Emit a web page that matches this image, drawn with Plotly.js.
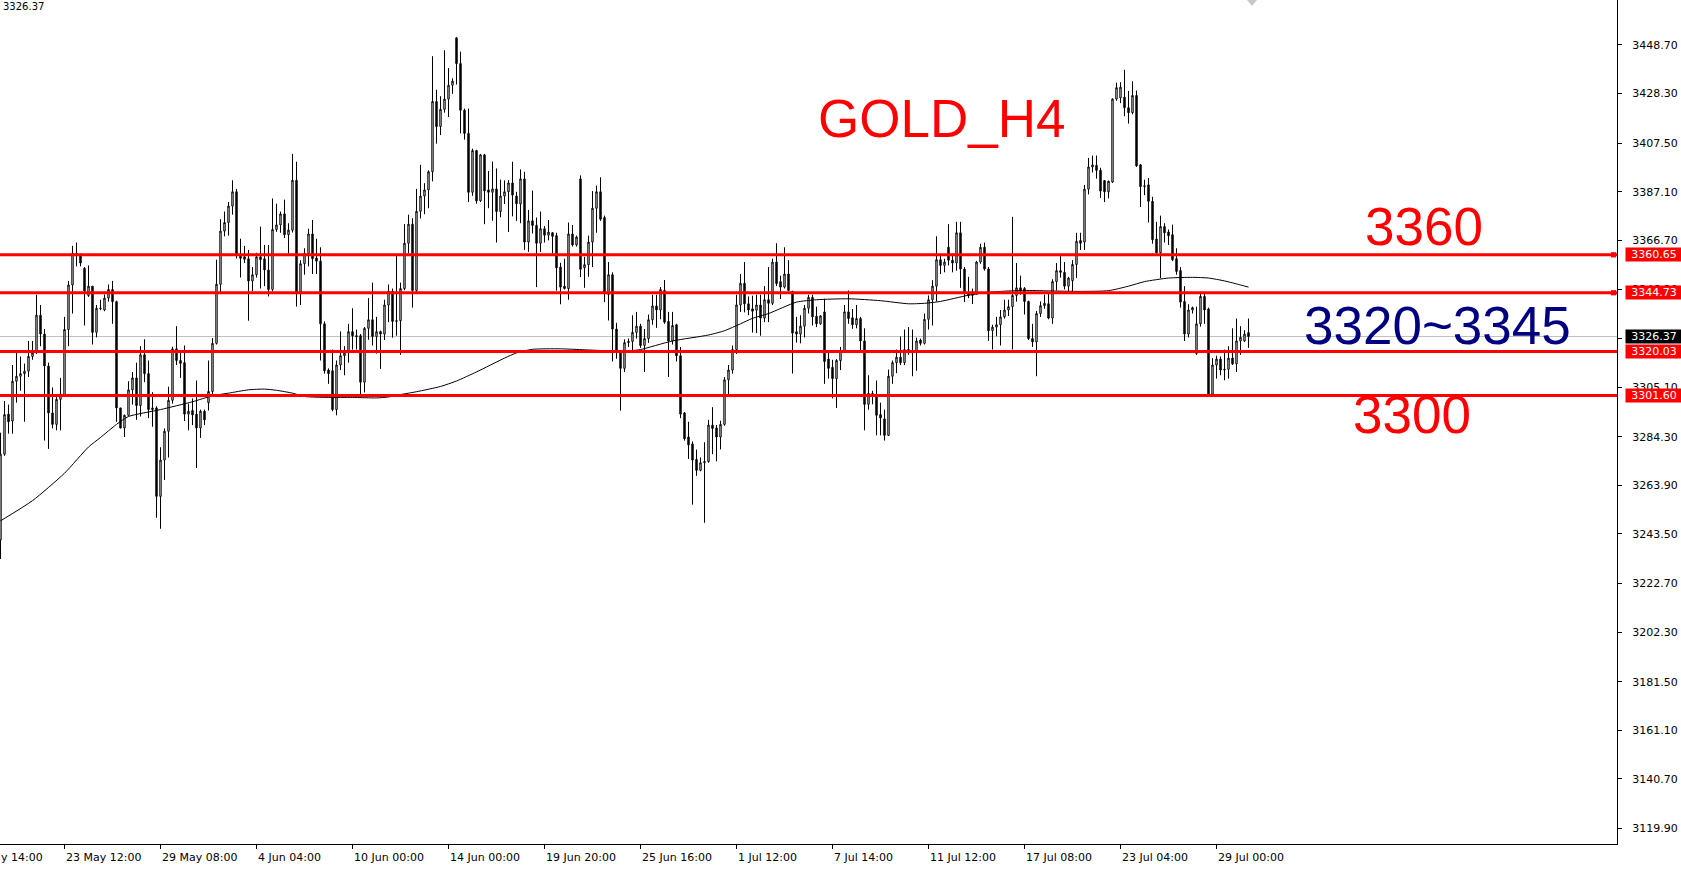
<!DOCTYPE html>
<html><head><meta charset="utf-8">
<script src="https://cdn.plot.ly/plotly-3.0.1.min.js"></script>
<style>html,body{margin:0;padding:0;background:#fff;overflow:hidden}#chart{width:1681px;height:871px}</style>
</head><body><div id="chart"></div>
<script>
// ---- data (GOLD H4 candles) ----
const openP = [
3241,3277,3293.8,3290.9,3307.6,3309.7,3310.8,3311.8,3318,3319.5,
3335.3,3327.4,3314,3294.3,3289.5,3300,3301.6,3329.3,3348,3361.2,
3360.5,3355,3343.6,3347.5,3328.1,3338,3337.5,3342.5,3346.1,3341,
3296.4,3288,3293.3,
3304,3309,3297.4,3318.7,3310.8,3295.7,3296.4,3259.3,3274.5,3286.6,
3299.6,3321.2,3316.3,3315.4,3293.8,3295.3,3293.8,3288,3295,3298.6,
3303.3,3323.5,3348.3,3370.6,3374.2,3381.1,3387.1,3360.1,3359.8,3359,
3349.7,
3352.3,3359.8,3359,3354.3,3346.1,3371.3,3373.2,3377.8,3369.1,3371,
3391.9,3345.1,3356.9,3361.2,3369.4,3359.3,3358,3331.7,3312.3,3312,
3295.7,3314.4,3318.3,3319.5,3328.4,3326.7,3326.7,3307.2,3329.8,3333.4,
3326.4,
3328.4,3327.4,3339.6,3345.4,3332.7,3333,3346.5,3365.5,3373.5,3345.7,
3378.9,3385.3,3387.9,3395.5,3425,3414.5,3421.7,3426,3431.8,3451.7,
3440.9,3421.3,3411.6,3386.9,3404.4,3383.3,3402.6,3387.9,3386.9,3388.3,
3378.8,3385.3,
3387.1,3390.8,3385.3,3382,3392.5,3366,3374.9,3373,3365.5,3371.6,
3368.9,3369.9,3368.7,3355.5,3347.5,3346.5,3369.4,3364.8,3392.5,3355.2,
3356.5,3366,3380.2,3387.1,3376.3,3344,3352.3,3329.5,3320.2,3313,
3323.8,
3324.3,3328.1,3330.7,3322.6,3325.5,3333.4,3339.2,3337.5,3345.7,3332.7,
3324.5,3331.3,3318.3,3294.3,3284.2,3281.3,3274.8,3270.2,3273.4,3273.9,
3289.2,3288,3284.2,3289.5,3308.2,3312.3,3320.9,3339.6,3348.7,3340.1,
3338,
3337.4,3339.6,3334.1,3341.8,3340.3,3357.6,3349.4,3347.1,3352.6,3345.4,
3328.4,3327.4,3330.7,3338.2,3342.8,3334.9,3331.7,3336.7,3316.9,3313.4,
3308.7,3316.3,3320.2,3336.7,3334.2,3331.3,3333.9,3324.5,3297.9,3302.5,
3301.9,
3293.6,3291.8,3284.9,3309.7,3315.4,3317.7,3315.4,3320.9,3319.5,3320,
3324.9,3323.5,3333.6,3341.8,3347.5,3358.6,3356.2,3363.8,3358.4,3357.2,
3369.9,3354.7,3344.7,3343.6,3344.2,3357.6,3363.8,3354.7,3328.8,3330.3,
3331.3,3334.6,
3337.5,3338.9,3343.6,3346.8,3346.5,3341.1,3325.5,3324.1,3336,3339.3,
3340.1,3334.1,3349.4,3354,3353.3,3347.5,3349.8,3356.6,3366.7,3366,
3388.2,3397.5,3398.2,3396.1,3391.8,3387.1,3391.2,3426,3426.5,3426.8,
3422.4,
3420.3,3427.5,3398.4,3389.3,3390,3383.1,3367.3,3361.5,3372.5,3370.2,
3369.1,3359,3354,3341.1,3327.4,3337.5,3319.2,3331.7,3343.2,3337.9,
3302.2,3314.4,3316.9,3312.3,3312.6,3317.3,3314.9,3324.5,3324.5,3328
];
const highP = [
3286,3299.3,3297.8,3314.4,3319.5,3318,3315,3324.5,3324.5,3343.9,
3339.6,3329.5,3315.4,3305,3302.2,3309,3334.6,3349.7,3364.4,3365.8,
3361.2,3355.5,3356.2,3347.5,3339.6,3341.8,3344,3348.2,3349.7,3341.4,
3296.4,3293.6,3307.6,
3311.5,3315.4,3322.3,3325.2,3316.3,3303,3297.1,3279.9,3287.8,3305.3,
3322.1,3330.7,3319.5,3322.6,3298.2,3300.4,3307.9,3295.7,3295.7,3316.3,
3325.7,3358.6,3375.6,3378.8,3382.8,3391.9,3388.3,3367.4,3364.4,3362.7,
3355.5,
3361.5,3372.5,3364.8,3364.8,3384.3,3382.1,3378.8,3383.8,3373.9,3403,
3399.7,3358.4,3363.4,3371.6,3375.3,3367.4,3363.8,3332.7,3313,3320.9,
3316.3,3328.5,3322.3,3331.7,3338.2,3329.3,3327.4,3330.3,3342.5,3349,
3334.6,
3328.8,3341.8,3348.2,3346.5,3360.5,3349,3373.5,3377.5,3376,3388.3,
3398.4,3390.7,3396.1,3444,3429.9,3427.2,3446.5,3439,3434.7,3452,
3445.9,3422,3422,3405.2,3404.7,3403,3403,3395.8,3399.8,3396.9,
3392.2,3391.9,
3392,3399.7,3387.1,3396.5,3395.5,3379.5,3387.6,3376.3,3378.8,3372.7,
3375.3,3370.2,3369.9,3357.3,3359,3374.2,3373.2,3368.7,3394,3359.8,
3368.7,3387.4,3389.7,3393.2,3377.1,3357.6,3353.3,3332.1,3320.5,3325.2,
3325.5,
3335.3,3336.7,3331.7,3329.5,3335.6,3343.9,3343.9,3347.1,3350.1,3336.7,
3336.7,3331.7,3322,3294.7,3290.6,3282.3,3278.9,3275.6,3282,3291.4,
3296.7,3289.2,3291,3309.4,3314.4,3322.6,3343.9,3352.6,3357.6,3343.2,
3343.5,
3343.9,3343.9,3347.5,3355.5,3359,3365.5,3351.9,3363.8,3358.4,3345.4,
3334.6,3335.3,3339.6,3343.9,3343.9,3338.9,3335.3,3342.2,3319.5,3316.6,
3316.9,3322,3339.6,3345.7,3337.9,3339.6,3334.6,3329.8,3310.1,3303.6,
3307.9,
3298.6,3295.7,3312.5,3316.3,3320.9,3326.4,3329.3,3330.3,3329.3,3325.9,
3325.5,3336,3343.6,3350,3368.4,3360.5,3359,3373.5,3361.2,3374.5,
3374.5,3355.5,3351.4,3346.5,3358.1,3365.3,3365.8,3355.5,3331.3,3334.6,
3337.5,3341.8,
3341.8,3376.6,3357.2,3351.9,3347.1,3341.4,3331.7,3337.1,3341.1,3343.9,
3344.2,3350.4,3357.2,3360.1,3357.6,3351.4,3358.4,3369.9,3369.9,3390,
3401.3,3402.3,3402.3,3397.2,3391.8,3391.8,3426.3,3432.9,3433.1,3438.3,
3429.4,
3433.5,3429.6,3398.7,3392.2,3392.9,3385,3374.5,3377.1,3373.9,3371.3,
3373.3,3363.4,3355.5,3347.5,3339.9,3338.9,3338.9,3344.7,3344.2,3338.5,
3317.3,3318.3,3318,3320.9,3322.3,3329.8,3333.9,3330.7,3329,3333.9
];
const lowP = [
3233,3276.3,3285.6,3285.6,3298.6,3303.6,3290.6,3309.4,3316.6,3319,
3322.3,3282.7,3279.2,3287.8,3287,3287,3301,3322.3,3336,3355.8,
3355.8,3331,3343,3323,3326,3337.4,3337,3341,3331.7,3290.6,
3287.8,3284.2,3293,
3297.8,3291.4,3292.8,3307.2,3292.1,3288.5,3250.3,3245.7,3266.2,3275.6,
3298.2,3314.4,3309,3290.9,3287,3289.2,3271.2,3283.8,3289.2,3295.3,
3302.2,3323,3345,3368.4,3368.7,3377.5,3359.1,3351.1,3357.2,3333,
3345.4,
3351.1,3346.5,3347.5,3343.2,3345.4,3370.3,3369.9,3367.7,3361.2,3370,
3338.9,3339.6,3352.3,3355.8,3352.6,3352.6,3316.3,3310.8,3306.5,3295,
3293.3,3312.3,3310.1,3315.4,3320.9,3320.9,3302.2,3302.9,3325,3322.6,
3319.2,
3312.8,3324.9,3332.4,3325.9,3326.7,3318.7,3345.8,3361.2,3338.5,3345.1,
3375.9,3377.7,3380.2,3391.5,3407.3,3410.9,3420.3,3418.5,3428.2,3432.1,
3411.6,3409,3382.8,3385.4,3382.1,3382.8,3373.5,3380.2,3374.9,3365.8,
3376.4,3382,
3370.2,3376.8,3374.9,3373.9,3362.7,3361.9,3369.6,3347.1,3361.9,3365.8,
3366.7,3361.2,3345.6,3339.9,3346.1,3341.8,3364.1,3364.1,3351.3,3346.8,
3351.4,3355.5,3369.9,3374.9,3340.8,3333.1,3315.9,3317,3295.3,3311.5,
3322,
3320.3,3325.5,3321.6,3311.5,3323.7,3331.3,3330,3333.6,3331.7,3309.4,
3323,3315.9,3292.1,3282.7,3275,3255.8,3267.9,3269.8,3248.2,3273.4,
3277,3274,3279,3288.9,3302.2,3310.8,3319,3336.7,3336.5,3335.3,
3328,
3327.8,3326.7,3332.4,3332.4,3339.6,3347.5,3342.1,3346.5,3345.4,3310.8,
3323.8,3323.5,3326,3336,3331,3330.3,3331.3,3306.5,3308.7,3300.4,
3296.4,3312.3,3320,3331.7,3329.6,3329.8,3320.6,3287,3295.7,3297.9,
3284.9,
3284.9,3282.7,3284.6,3306.5,3311,3314.4,3314.4,3318.7,3309.7,3312,
3322.6,3323,3329.3,3331,3341.1,3352.6,3353.3,3356.2,3353.3,3354,
3346.8,3340.8,3342.5,3340,3343.9,3356.9,3354,3324.5,3320.9,3326.5,
3322.6,3333.9,
3335,3320.9,3341,3343.9,3335.6,3324.9,3322,3309.7,3334.6,3338,
3333.6,3331.7,3345.7,3351.1,3346.1,3345.4,3345.1,3350.9,3362.7,3362.7,
3386,3395.2,3392.6,3384.5,3382.8,3384.3,3390.8,3425.3,3424.3,3418.8,
3415.7,
3419.6,3397.5,3380.7,3385.7,3374.2,3365.3,3361.2,3350.9,3365.8,3364.8,
3358,3352.3,3338.5,3324.5,3326,3336,3318.7,3330.5,3331.7,3301.6,
3301.9,3308.7,3310.1,3308,3308.7,3314.4,3311.5,3318.7,3324.1,3321.6
];
const closeP = [
3277,3293.6,3290.6,3307.6,3309.7,3310.8,3311.8,3318,3319.5,3335.3,
3327.4,3314,3294.3,3289.5,3300,3302.2,3329.3,3348,3361.2,3360.5,
3357.2,3345.5,3347.5,3328.1,3338.2,3338.2,3342.5,3346.1,3341,3296.4,
3288,3293.3,3304,
3309,3297.4,3318.7,3310.8,3295.7,3296.4,3259.3,3274.5,3286.6,3299.6,
3321.2,3316.3,3315.1,3293.8,3295,3293.5,3288,3295,3291.4,3303.3,
3323.5,3348.3,3370.6,3374.2,3381.1,3387.1,3361.2,3359.2,3358.8,3349.7,
3352.3,
3359.8,3358.6,3354.3,3346.1,3371.3,3373.2,3377.8,3369.1,3371,3391.9,
3345.1,3356.9,3361.2,3369.4,3359,3358,3331.7,3312,3310.8,3295.7,
3314.4,3318.3,3319.5,3328.4,3326.7,3326.3,3307.2,3329.8,3333.4,3326.4,
3328.4,
3327.4,3339.6,3345.4,3332.7,3333,3346.5,3365.5,3373.5,3345.7,3378.9,
3385.3,3387.9,3395.5,3425,3414.5,3421.7,3426,3431.8,3433.5,3440.9,
3421.3,3411.6,3386.9,3404.4,3383.3,3402.6,3387.5,3386.9,3388.3,3378.8,
3385.3,3387.1,
3390.8,3385.7,3382.1,3392.5,3366,3374.9,3373,3365.5,3371.6,3368.9,
3370.2,3368.4,3355.2,3347.1,3346.5,3369.4,3364.8,3368.1,3354.6,3356.5,
3366,3380.2,3387.1,3375.6,3345.1,3352.3,3329.5,3320.2,3313,3323.8,
3324.3,
3328.1,3330.7,3322.6,3325.5,3333.4,3339.2,3337.5,3346.1,3332.4,3324.5,
3331,3318.3,3293.8,3283.5,3280.9,3274.5,3270.2,3273.4,3273.9,3289.2,
3287.8,3284.2,3289.5,3308.2,3312.3,3320.9,3339.6,3348.7,3340.1,3337.5,
3337,
3339.6,3334.1,3341.8,3340.3,3357.6,3348.6,3347.1,3352.6,3345.7,3327.8,
3327.4,3330.7,3338.2,3342.8,3334.6,3331.7,3335,3315.9,3313,3308.7,
3316.3,3320.2,3336.7,3333.9,3331.3,3333.9,3324.5,3297.9,3302.5,3301.5,
3293.3,
3292.2,3284.9,3309.7,3315.4,3317.7,3315.4,3320.9,3319.5,3320,3324.5,
3323.5,3333.6,3341.8,3347.5,3358.6,3356.2,3357.6,3358.4,3357.2,3369.9,
3354.7,3344.7,3343.6,3344.2,3357.6,3363.8,3354.7,3328.8,3330.3,3331.3,
3334.6,3337.5,
3338.9,3343.6,3346.8,3345.7,3341.1,3325.5,3324.1,3336,3339.3,3340.3,
3334.1,3349.4,3354,3353.3,3347.5,3350.9,3356.6,3366.3,3365.5,3388.2,
3397.5,3398.4,3396.1,3387.4,3387.1,3391.5,3426,3430.8,3431,3422.4,
3420.3,
3427.5,3398,3389.3,3389.6,3383.1,3367,3361.5,3372.5,3369.9,3368.7,
3358.6,3353.7,3340.8,3327.4,3337.5,3338.5,3331.7,3343.2,3337.5,3302.2,
3314.4,3316.9,3312.3,3312.6,3317.3,3314.9,3324.5,3326,3327.4,3326.37
];
// moving average line, read at sample bars
const maBar = [0,8,16,22,25,29,32,40,48,53,57,62,66,69,73,76,82,88,94,97,100,104,110,114,119,126,129,133,140,146,152,158,160,168,177,181,185,188,192,199,204,212,220,227,231,235,242,246,251,256,262,270,277,282,286,292,298,302,306,310,312];
const maVal = [3249,3257.5,3269,3280,3284,3289.5,3292.8,3295.7,3299,3301.5,3302.6,3304,3304.3,3303.8,3302.6,3301.2,3300.8,3300.8,3300.6,3301,3302,3303.2,3305.4,3307.7,3311.5,3317.3,3319.5,3321,3321.2,3320.8,3320.4,3320.5,3320.9,3324.5,3327,3328.8,3331.7,3334,3336,3340.8,3341.8,3342.2,3341.4,3340.1,3340.3,3341.1,3343.7,3344.7,3345.4,3345.7,3345.5,3345.3,3345.6,3347.5,3349.4,3350.9,3351.2,3350.9,3349.7,3348,3347.1];
// horizontal levels
const levelPrices = [3360.65, 3344.73, 3320.03, 3301.60];
const levelLabels = ['3360.65', '3344.73', '3320.03', '3301.60'];
const bidPrice = 3326.37;
const bidLabel = '3326.37';
// axis ticks
const yTickVals = [3448.70,3428.30,3407.50,3387.10,3366.70,3346.30,3325.50,3305.10,3284.30,3263.90,3243.50,3222.70,3202.30,3181.50,3161.10,3140.70,3119.90];
const yTickText = ['3448.70','3428.30','3407.50','3387.10','3366.70','3346.30','3325.50','3305.10','3284.30','3263.90','3243.50','3222.70','3202.30','3181.50','3161.10','3140.70','3119.90'];
const xTickBars = [16,40,64,88,112,136,160,184,208,232,256,280,304];
const xTickText = ['23 May 12:00','29 May 08:00','4 Jun 04:00','10 Jun 00:00','14 Jun 00:00','19 Jun 20:00','25 Jun 16:00','1 Jul 12:00','7 Jul 14:00','11 Jul 12:00','17 Jul 08:00','23 Jul 04:00','29 Jul 00:00'];
const firstLabel = 'y 14:00';
const titleText = 'GOLD_H4';
const noteTop = '3360';
const noteMid = '3320~3345';
const noteLow = '3300';

// ---- chart ----
const PW = 1617, PH = 844;
const px = v => v / PW;          // pixel -> paper x
const py = v => 1 - v / PH;      // pixel -> paper y
const bars = openP.map((_, i) => i);
const RED = '#FF0000';
const FONT = 'DejaVu Sans';

const traces = [
  {
    type: 'candlestick', x: bars, open: openP, high: highP, low: lowP, close: closeP,
    increasing: {line: {color: '#000', width: 1}, fillcolor: '#ffffff'},
    decreasing: {line: {color: '#000', width: 1}, fillcolor: '#000000'},
    whiskerwidth: 0, hoverinfo: 'skip', showlegend: false
  },
  {
    type: 'scatter', mode: 'lines', x: maBar, y: maVal,
    line: {color: '#000', width: 1, shape: 'spline', smoothing: 0.6},
    hoverinfo: 'skip', showlegend: false
  }
];

const shapes = [
  {type: 'line', xref: 'paper', x0: 0, x1: 1, yref: 'y', y0: bidPrice, y1: bidPrice,
   line: {color: '#C0C0C0', width: 1}, layer: 'below'}
];
levelPrices.forEach(p => shapes.push({
  type: 'line', xref: 'paper', x0: 0, x1: 1, yref: 'y', y0: p, y1: p,
  line: {color: RED, width: 3}, layer: 'above'
}));
// small marker squares at the axis for the two upper levels
[levelPrices[0], levelPrices[1]].forEach(p => shapes.push({
  type: 'rect', xref: 'paper', x0: px(1611), x1: px(1616), yref: 'y', y0: p - 1.1, y1: p + 1.1,
  fillcolor: RED, line: {width: 0}, layer: 'above'
}));
// chart-shift marker at the top
shapes.push({type: 'path', xref: 'paper', yref: 'paper',
  path: `M ${px(1247)},${py(0)} L ${px(1257)},${py(0)} L ${px(1252)},${py(6)} Z`,
  fillcolor: '#C8C8C8', line: {width: 0}});

const annotations = [];
// bottom time labels, left-aligned at the tick like the terminal does
xTickBars.forEach((b, i) => annotations.push({
  xref: 'x', x: b, xanchor: 'left', yref: 'paper', y: py(858), yanchor: 'middle',
  text: xTickText[i], showarrow: false, borderpad: 0,
  font: {family: FONT, size: 11, color: '#000'}
}));
annotations.push({xref: 'paper', x: 0, xanchor: 'left', yref: 'paper', y: py(858), yanchor: 'middle',
  text: firstLabel, showarrow: false, borderpad: 0, font: {family: FONT, size: 11, color: '#000'}});
// price boxes on the right axis
levelPrices.forEach((p, i) => annotations.push({
  xref: 'paper', x: px(1625), xanchor: 'left', yref: 'y', y: p, yanchor: 'middle',
  text: levelLabels[i], showarrow: false, bgcolor: RED, borderpad: 1, width: 54, height: 11,
  align: 'center', font: {family: FONT, size: 11, color: '#ffffff'}
}));
annotations.push({
  xref: 'paper', x: px(1625), xanchor: 'left', yref: 'y', y: bidPrice, yanchor: 'middle',
  text: bidLabel, showarrow: false, bgcolor: '#000000', borderpad: 1, width: 54, height: 11,
  align: 'center', font: {family: FONT, size: 11, color: '#ffffff'}
});
// top-left price text
annotations.push({xref: 'paper', x: px(2), xanchor: 'left', yref: 'paper', y: py(7), yanchor: 'middle',
  text: bidLabel, showarrow: false, borderpad: 0, font: {family: FONT, size: 10, color: '#000'}});
// big notes
const big = (t, cx, cy, col) => ({xref: 'paper', x: px(cx), xanchor: 'center', yref: 'paper', y: py(cy), yanchor: 'middle',
  text: t, showarrow: false, borderpad: 0, font: {family: 'Liberation Sans', size: 53, color: col}});
annotations.push(big(titleText, 941, 118, RED));
annotations.push(big(noteTop, 1424, 227, RED));
annotations.push(big(noteMid, 1437, 326, '#000080'));
annotations.push(big(noteLow, 1412, 415, RED));

const layout = {
  width: 1681, height: 871,
  margin: {l: 0, r: 64, t: 0, b: 27, pad: 0},
  paper_bgcolor: '#ffffff', plot_bgcolor: '#ffffff',
  showlegend: false, boxgap: 0.5, hovermode: false,
  font: {family: FONT, size: 11, color: '#000'},
  xaxis: {range: [-0.125, 404.125], showgrid: false, zeroline: false, showline: true,
    linecolor: '#000', linewidth: 1, ticks: 'outside', ticklen: 4, tickcolor: '#000',
    tickmode: 'array', tickvals: xTickBars, showticklabels: false,
    rangeslider: {visible: false}, fixedrange: true},
  yaxis: {range: [3113.41, 3467.58], side: 'right', showgrid: false, zeroline: false, showline: true,
    linecolor: '#000', linewidth: 1, ticks: 'outside', ticklen: 4, tickcolor: '#000',
    tickmode: 'array', tickvals: yTickVals, ticktext: yTickText,
    tickfont: {family: FONT, size: 11, color: '#000'}, ticklabelstandoff: 8, fixedrange: true},
  shapes: shapes, annotations: annotations
};

Plotly.newPlot('chart', traces, layout, {staticPlot: true, displayModeBar: false});
</script></body></html>
